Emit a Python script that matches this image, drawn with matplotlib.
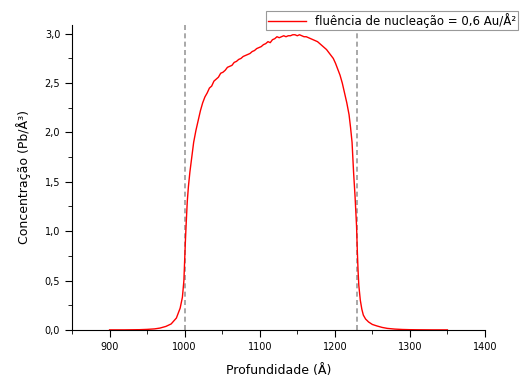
import matplotlib
matplotlib.use("Agg")
import matplotlib.pyplot as plt
from matplotlib.ticker import MultipleLocator, FuncFormatter

# profundidade (A) e concentracao (Pb/A^3)
prof = [900, 910, 920, 930, 940, 950, 960, 967, 975, 982, 989, 994, 997, 999,
        1000, 1001, 1002, 1003.5, 1005, 1007, 1009, 1012, 1015, 1018, 1021,
        1024, 1027, 1030, 1033, 1036, 1039, 1042, 1045, 1048, 1051, 1054,
        1057, 1060, 1063, 1066, 1069, 1072, 1075, 1078, 1081, 1084, 1087,
        1090, 1093, 1096, 1099, 1102, 1105, 1108, 1111, 1114, 1117, 1120,
        1123, 1126, 1129, 1132, 1135, 1138, 1141, 1144, 1147, 1150, 1153,
        1156, 1159, 1162, 1165, 1168, 1171, 1174, 1177, 1180, 1183, 1186,
        1189, 1192, 1195, 1198, 1201, 1204, 1207, 1210, 1213, 1216, 1219,
        1221, 1223, 1225, 1227, 1229, 1230, 1231, 1232, 1234, 1236, 1238,
        1241, 1245, 1250, 1256, 1263, 1270, 1280, 1290, 1300, 1310, 1330, 1350]
conc = [0.0, 0.0, 0.0, 0.001, 0.002, 0.005, 0.010, 0.018, 0.035, 0.06, 0.12,
        0.22, 0.33, 0.50, 0.70, 0.90, 1.07, 1.30, 1.45, 1.60, 1.72, 1.90,
        2.02, 2.12, 2.22, 2.30, 2.36, 2.40, 2.45, 2.47, 2.52, 2.54, 2.56,
        2.60, 2.61, 2.63, 2.66, 2.67, 2.68, 2.71, 2.72, 2.74, 2.75, 2.77,
        2.78, 2.79, 2.80, 2.82, 2.83, 2.85, 2.86, 2.87, 2.89, 2.90, 2.92,
        2.91, 2.94, 2.95, 2.97, 2.96, 2.97, 2.98, 2.97, 2.98, 2.98, 2.99,
        2.99, 2.98, 2.99, 2.98, 2.97, 2.97, 2.96, 2.95, 2.94, 2.93, 2.92,
        2.90, 2.88, 2.86, 2.84, 2.81, 2.78, 2.75, 2.70, 2.64, 2.58, 2.50,
        2.40, 2.30, 2.18, 2.05, 1.90, 1.60, 1.35, 1.05, 0.80, 0.60, 0.45,
        0.30, 0.21, 0.15, 0.11, 0.08, 0.055, 0.04, 0.025, 0.015, 0.008,
        0.004, 0.002, 0.001, 0.0, 0.0]
limites = [1000, 1230]
rotulo = "fluência de nucleação = 0,6 Au/Å²"

fig = plt.figure(figsize=(5.22, 3.77), dpi=100)
ax = fig.add_axes([0.138, 0.125, 0.791, 0.809])

ax.plot(prof, conc, color="red", lw=1.0, label=rotulo)
for xv in limites:
    ax.axvline(xv, color="#999999", ls=(0, (3, 2)), lw=1.2, zorder=0)

ax.set_xlim(850, 1400)
ax.set_ylim(0, 3.09)
ax.xaxis.set_major_locator(MultipleLocator(100))
ax.xaxis.set_minor_locator(MultipleLocator(50))
ax.yaxis.set_major_locator(MultipleLocator(0.5))
ax.yaxis.set_minor_locator(MultipleLocator(0.25))
ax.yaxis.set_major_formatter(FuncFormatter(lambda v, p: f"{v:.1f}".replace(".", ",")))

for s in ["top", "right"]:
    ax.spines[s].set_visible(False)
ax.tick_params(which="major", direction="out", length=5, labelsize=7)
ax.tick_params(which="minor", direction="out", length=3)

ax.set_xlabel("Profundidade (Å)", fontsize=9, labelpad=9)
ax.set_ylabel("Concentração (Pb/Å³)", fontsize=9, labelpad=10)

leg = fig.legend(loc="upper right", bbox_to_anchor=(518 / 522, 1 - 11 / 377),
                 fontsize=8.5, fancybox=False, framealpha=1, edgecolor="#999999",
                 handlelength=3.2, borderpad=0.15, borderaxespad=0)
leg.get_frame().set_linewidth(0.8)

fig.savefig("out.png", dpi=100)
